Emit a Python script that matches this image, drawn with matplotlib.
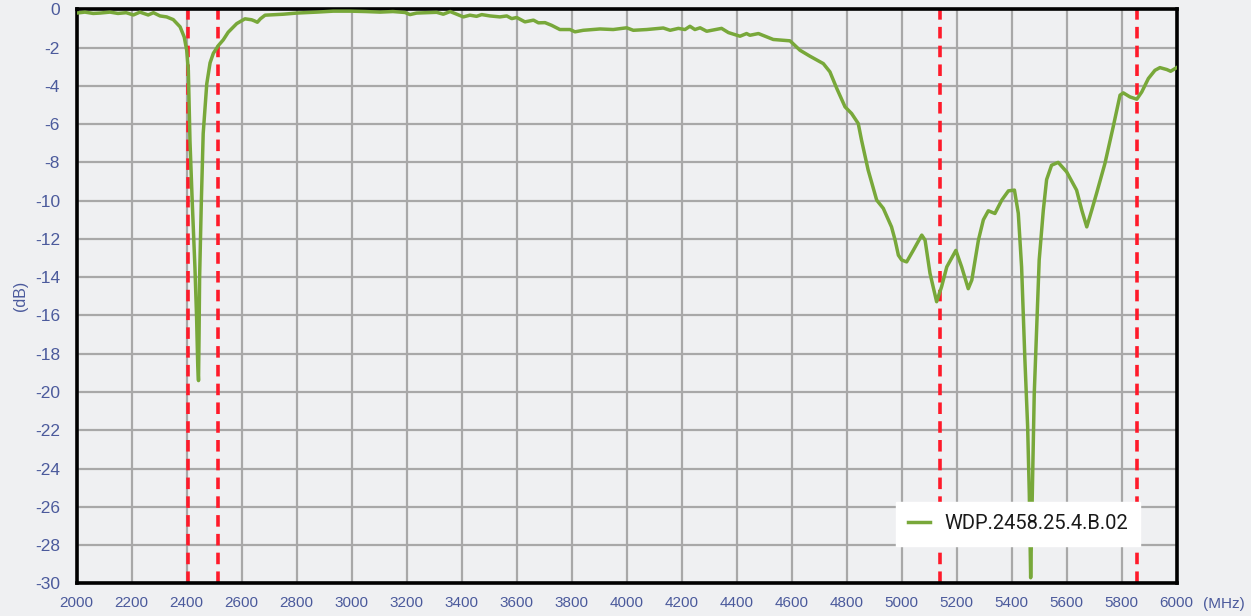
import matplotlib
matplotlib.use("Agg")
import matplotlib.pyplot as plt

freq_mhz = [2000, 2030, 2060, 2085, 2121, 2150, 2180, 2206, 2230, 2260, 2279, 2303, 2327, 2351,
            2376, 2391, 2400, 2406, 2412, 2420, 2430, 2436, 2440, 2443, 2445, 2447, 2453, 2460,
            2473, 2485, 2497, 2515, 2533, 2551, 2582, 2612, 2636, 2645, 2657, 2668, 2685, 2751,
            2800, 2873, 2933, 2994, 3050, 3103, 3150, 3194, 3212, 3236, 3309, 3333, 3358, 3406,
            3430, 3454, 3473, 3503, 3539, 3564, 3582, 3600, 3630, 3661, 3679, 3703, 3727, 3757,
            3794, 3812, 3842, 3903, 3951, 4000, 4024, 4073, 4133, 4158, 4188, 4212, 4230, 4248,
            4267, 4291, 4345, 4370, 4412, 4436, 4448, 4479, 4533, 4594, 4630, 4666, 4715, 4739,
            4764, 4794, 4818, 4842, 4854, 4878, 4909, 4933, 4963, 4976, 4988, 5000, 5018, 5042,
            5073, 5085, 5103, 5127, 5145, 5164, 5197, 5218, 5242, 5255, 5279, 5297, 5315, 5339,
            5364, 5388, 5410, 5424, 5436, 5448, 5458, 5464, 5469, 5475, 5482, 5491, 5500, 5515,
            5527, 5545, 5569, 5600, 5636, 5655, 5673, 5691, 5709, 5739, 5769, 5794, 5806, 5830,
            5855, 5873, 5897, 5921, 5939, 5964, 5978, 6000]
return_loss_db = [-0.2, -0.15, -0.22, -0.2, -0.15, -0.22, -0.18, -0.3, -0.15, -0.3, -0.18, -0.35, -0.4, -0.54,
                  -0.92, -1.45, -2.14, -3.2, -6.9, -10.0, -13.5, -16.1, -18.5, -19.4, -17.0, -14.0, -10.2, -6.5,
                  -3.9, -2.8, -2.3, -1.9, -1.6, -1.2, -0.75, -0.5, -0.55, -0.6, -0.68, -0.5, -0.31, -0.26,
                  -0.2, -0.15, -0.1, -0.1, -0.12, -0.15, -0.12, -0.17, -0.28, -0.2, -0.16, -0.26, -0.12, -0.4,
                  -0.31, -0.37, -0.28, -0.35, -0.4, -0.35, -0.49, -0.43, -0.66, -0.57, -0.71, -0.7, -0.84, -1.06,
                  -1.06, -1.18, -1.1, -1.03, -1.06, -0.97, -1.1, -1.06, -0.98, -1.1, -1.0, -1.06, -0.89, -1.06,
                  -0.97, -1.15, -1.0, -1.22, -1.41, -1.27, -1.36, -1.27, -1.58, -1.65, -2.14, -2.45, -2.84, -3.27,
                  -4.14, -5.1, -5.45, -5.97, -6.84, -8.4, -9.97, -10.4, -11.37, -12.06, -12.85, -13.1, -13.2, -12.6,
                  -11.8, -12.06, -13.8, -15.28, -14.5, -13.46, -12.6, -13.46, -14.6, -14.15, -12.06, -11.0, -10.53, -10.67,
                  -9.97, -9.49, -9.45, -10.66, -13.46, -18.3, -21.8, -25.3, -29.7, -25.3, -20.1, -16.6, -13.1, -10.5,
                  -8.9, -8.15, -8.0, -8.5, -9.45, -10.5, -11.37, -10.5, -9.6, -8.06, -6.15, -4.49, -4.37, -4.58,
                  -4.7, -4.32, -3.62, -3.19, -3.05, -3.15, -3.24, -3.05]
band_edges_mhz = [2404, 2515, 5140, 5857]
series_name = "WDP.2458.25.4.B.02"
x_ticks = list(range(2000, 6001, 200))
y_ticks = list(range(-30, 1, 2))

bg = "#eff0f2"
tick_color = "#4b5a9c"

fig = plt.figure(figsize=(12.51, 6.16), dpi=100, facecolor=bg)
ax = fig.add_axes([0.0613, 0.0528, 0.8793, 0.9322])
ax.set_facecolor(bg)

ax.plot(freq_mhz, return_loss_db, color="#78a83a", lw=2.5, label=series_name, zorder=3,
        solid_joinstyle="round")
for xb in band_edges_mhz:
    ax.axvline(xb, color="#ff1a2a", lw=2.6, linestyle=(0, (3.2, 2.0)), zorder=2)

ax.set_xlim(2000, 6000)
ax.set_ylim(-30, 0)
ax.set_xticks(x_ticks)
ax.set_yticks(y_ticks)
ax.set_xticklabels([str(t) for t in x_ticks], fontsize=11, color=tick_color, family="Liberation Sans")
ax.set_yticklabels([str(t) for t in y_ticks], fontsize=12.5, color=tick_color, family="Liberation Sans")
ax.tick_params(axis="y", length=0, pad=12)
ax.tick_params(axis="x", length=0, pad=9)
ax.grid(True, color="#a8a8a8", lw=1.6, zorder=1)
for s in ax.spines.values():
    s.set_color("black")
    s.set_linewidth(2.6)

ax.set_ylabel("(dB)", fontsize=11.5, color=tick_color, family="Liberation Sans", labelpad=5)
ax.text(1.0425, -0.036, "(MHz)", transform=ax.transAxes, fontsize=11, color=tick_color,
        family="Liberation Sans", ha="center", va="center")

leg = ax.legend(loc="lower right", bbox_to_anchor=(0.967, 0.066), fancybox=False, framealpha=1,
                edgecolor="white", facecolor="white", prop={"family": "Roboto", "size": 14.5},
                handlelength=1.1, borderpad=0.6, handletextpad=0.7, borderaxespad=0)
for t in leg.get_texts():
    t.set_color("#1a1a1a")
leg.set_zorder(5)

fig.savefig("out.png", dpi=100, facecolor=bg)
